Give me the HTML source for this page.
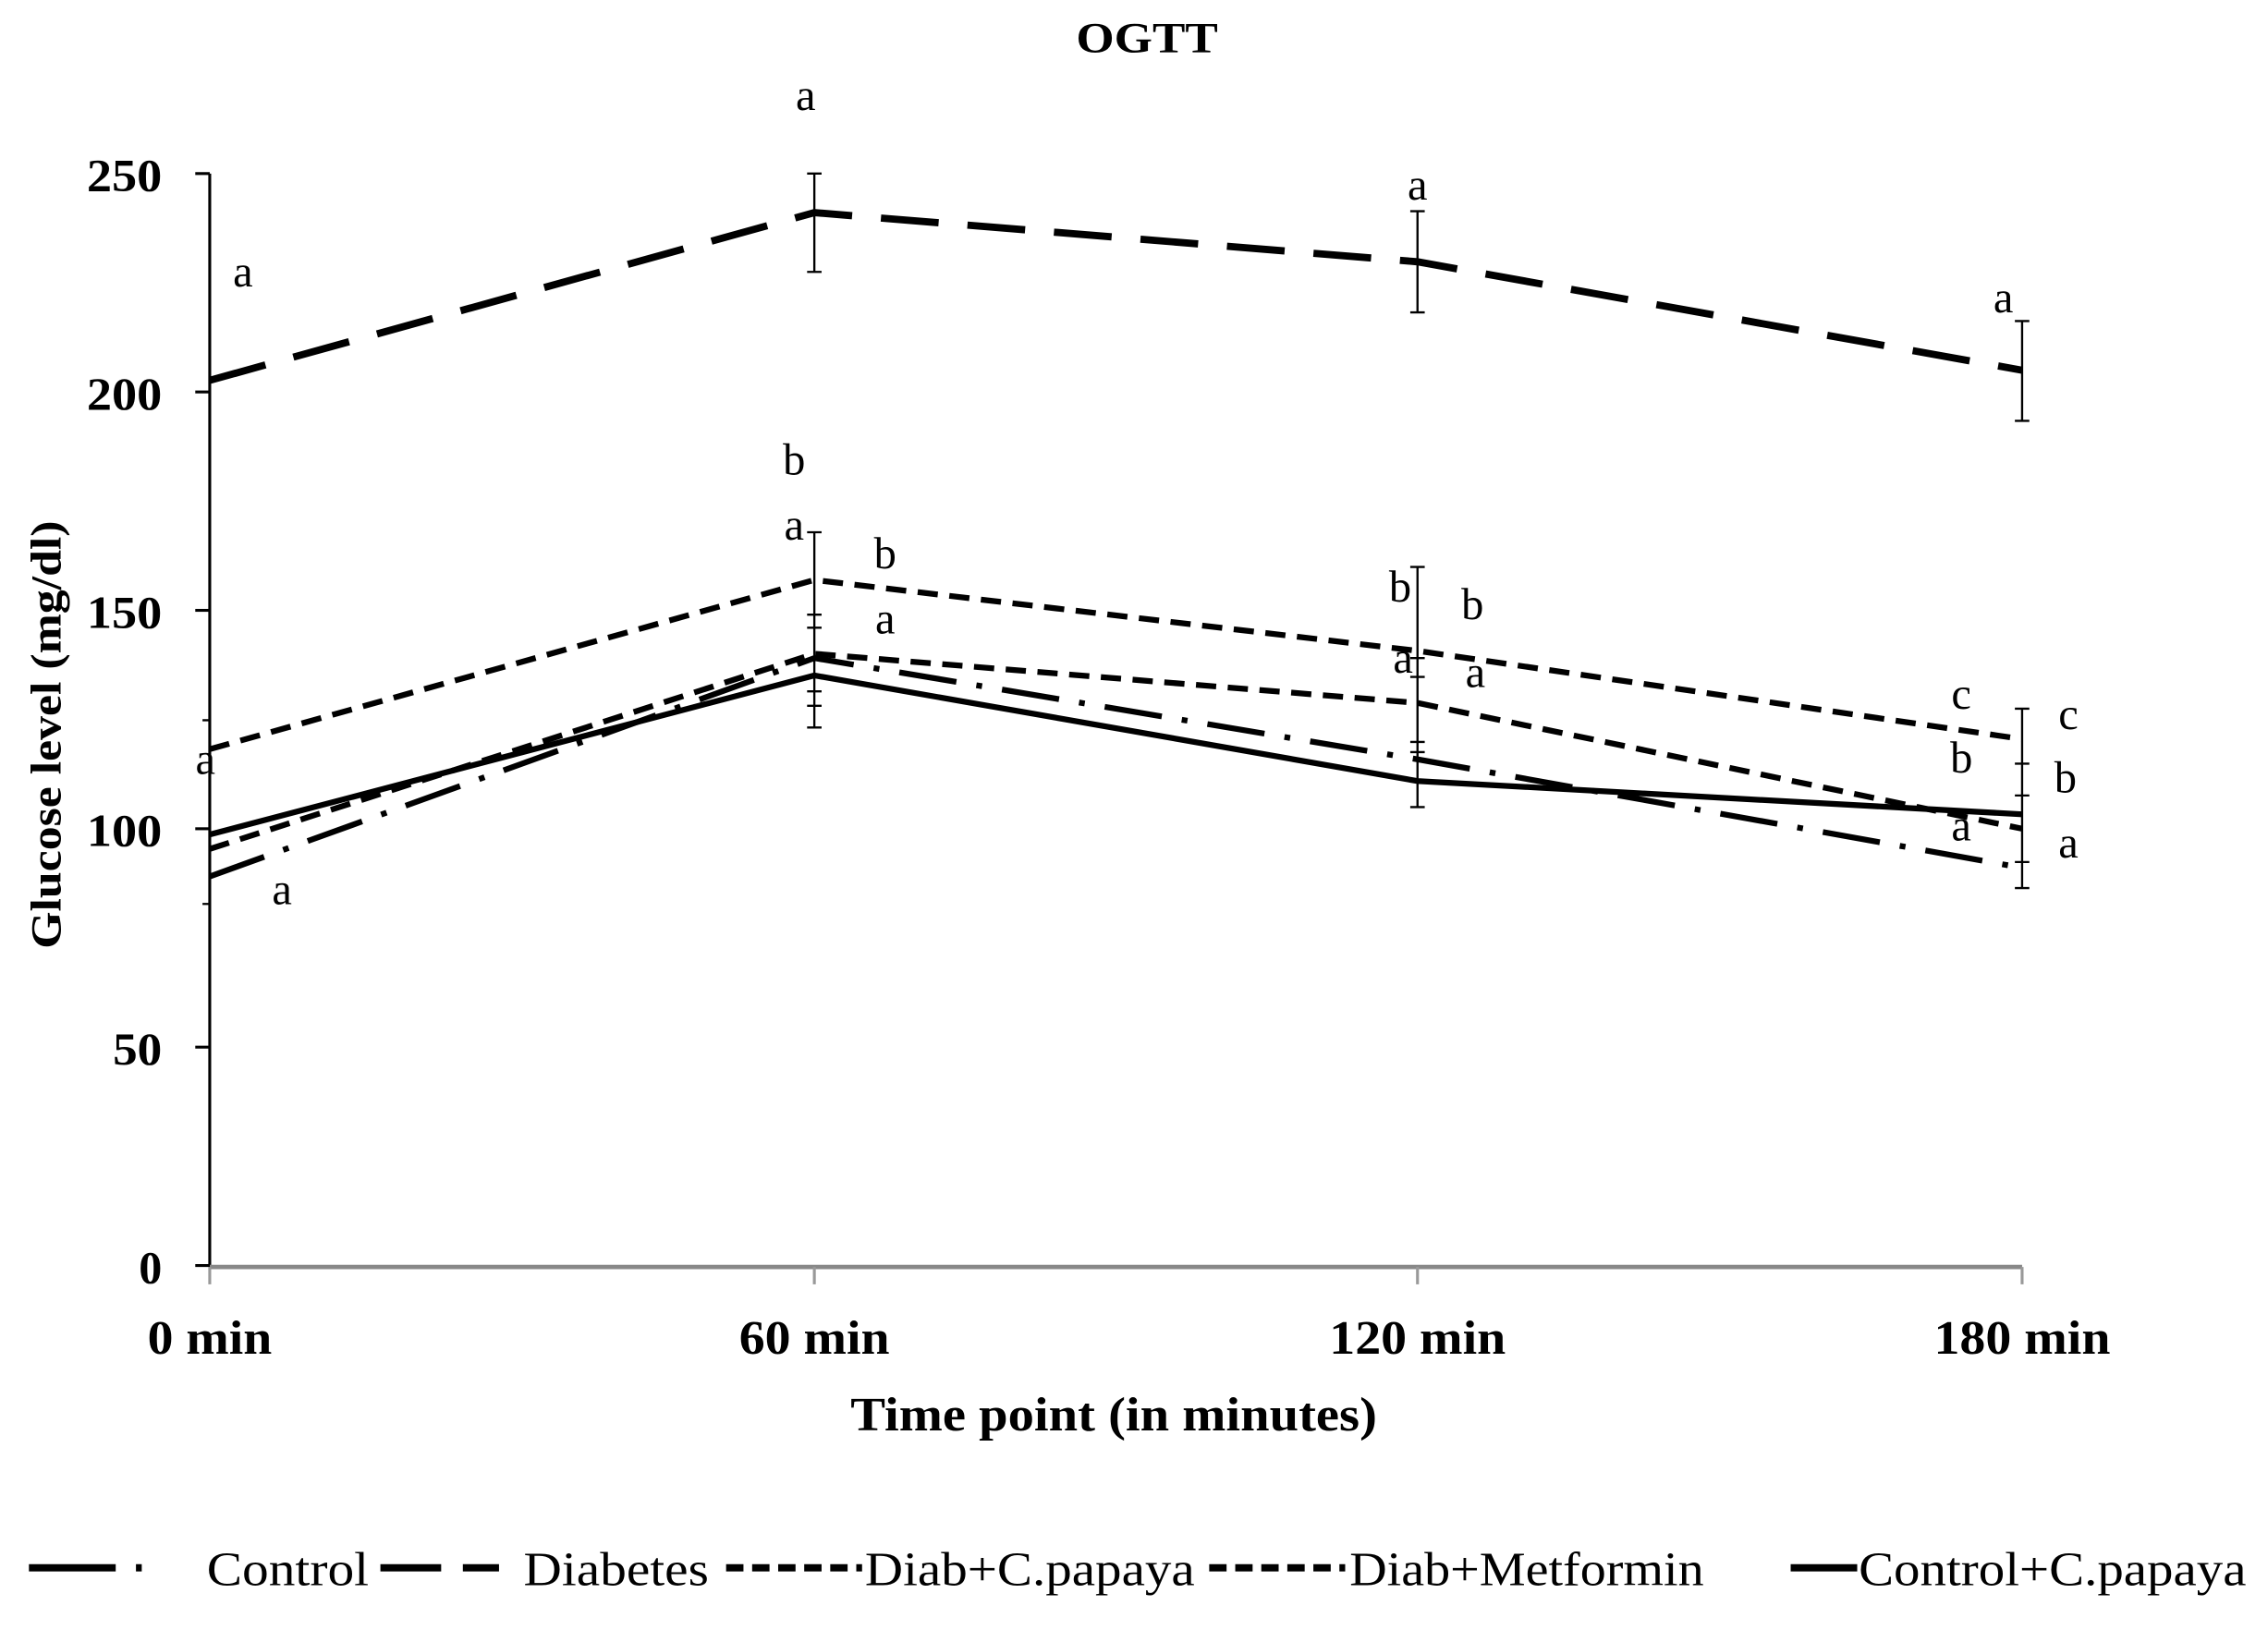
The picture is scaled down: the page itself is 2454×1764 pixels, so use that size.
<!DOCTYPE html>
<html><head><meta charset="utf-8"><style>html,body{margin:0;padding:0;background:#fff}svg{display:block}</style></head><body>
<svg width="2454" height="1764" viewBox="0 0 1568 1127" preserveAspectRatio="none" xmlns="http://www.w3.org/2000/svg" font-family="'Liberation Serif', serif">
<text x="793" y="36" font-size="30" font-weight="bold" text-anchor="middle" textLength="98" lengthAdjust="spacingAndGlyphs">OGTT</text>
<line x1="145" y1="120" x2="145" y2="876" stroke="#000" stroke-width="2"/>
<line x1="145" y1="876" x2="1398" y2="876" stroke="#888" stroke-width="3"/>
<g stroke="#000" stroke-width="2">
<line x1="135" y1="120" x2="145" y2="120"/><line x1="135" y1="271" x2="145" y2="271"/><line x1="135" y1="422" x2="145" y2="422"/><line x1="135" y1="573" x2="145" y2="573"/><line x1="135" y1="724" x2="145" y2="724"/><line x1="135" y1="875" x2="145" y2="875"/>
</g>
<g stroke="#999" stroke-width="2"><line x1="145" y1="876" x2="145" y2="888"/><line x1="563" y1="876" x2="563" y2="888"/><line x1="980" y1="876" x2="980" y2="888"/><line x1="1398" y1="876" x2="1398" y2="888"/></g>
<g font-size="32" font-weight="bold" text-anchor="end">
<text x="112" y="132" textLength="52" lengthAdjust="spacingAndGlyphs">250</text><text x="112" y="283" textLength="52" lengthAdjust="spacingAndGlyphs">200</text><text x="112" y="434" textLength="52" lengthAdjust="spacingAndGlyphs">150</text><text x="112" y="585" textLength="52" lengthAdjust="spacingAndGlyphs">100</text><text x="112" y="736" textLength="34" lengthAdjust="spacingAndGlyphs">50</text><text x="112" y="887">0</text>
</g>
<g font-size="33" font-weight="bold" text-anchor="middle">
<text x="145" y="936" textLength="86" lengthAdjust="spacingAndGlyphs">0 min</text><text x="563" y="936" textLength="104" lengthAdjust="spacingAndGlyphs">60 min</text><text x="980" y="936" textLength="122" lengthAdjust="spacingAndGlyphs">120 min</text><text x="1398" y="936" textLength="122" lengthAdjust="spacingAndGlyphs">180 min</text>
<text x="770" y="989" textLength="364" lengthAdjust="spacingAndGlyphs">Time point (in minutes)</text>
</g>
<text transform="translate(42,508) rotate(-90)" font-size="30" font-weight="bold" text-anchor="middle" textLength="296" lengthAdjust="spacingAndGlyphs">Glucose level (mg/dl)</text>
<g stroke="#000" stroke-width="1.5" fill="none">
<path d="M563 120V188M558 120h10M558 188h10"/>
<path d="M980 146V216M975 146h10M975 216h10"/>
<path d="M1398 222V291M1393 222h10M1393 291h10"/>
<path d="M563 368V503M558 368h10M558 503h10M558 425h10M558 434h10M558 488h10M558 478h10"/>
<path d="M980 392V558M975 392h10M975 558h10M975 455h10M975 468h10M975 513h10M975 520h10"/>
<path d="M1398 490V614M1393 490h10M1393 528h10M1393 550h10M1393 596h10M1393 614h10"/>
<path d="M145 258V302M145 498V625M140 498h5M140 625h5"/>
</g>
<g fill="none" stroke="#000" stroke-width="4">
<polyline points="145,263 563,147 980,181 1398,256" stroke-dasharray="40,20" stroke-width="5"/>
<polyline points="145,518 563,401 980,450 1398,511" stroke-dasharray="14,8"/>
<polyline points="145,587 563,452 980,486 1398,573" stroke-dasharray="14,8"/>
<polyline points="145,606 563,455 980,525 1398,600" stroke-dasharray="40,14,4,14"/>
<polyline points="145,577 563,467 980,540 1398,563"/>
</g>
<g font-size="31" text-anchor="middle">
<text x="168" y="198">a</text><text x="557" y="76">a</text><text x="980" y="138">a</text><text x="1385" y="216">a</text>
<text x="549" y="328">b</text><text x="549" y="373">a</text><text x="612" y="393">b</text><text x="612" y="438">a</text>
<text x="968" y="416">b</text><text x="1018" y="428">b</text><text x="970" y="465">a</text><text x="1020" y="475">a</text>
<text x="1356" y="490">c</text><text x="1430" y="504">c</text><text x="1356" y="534">b</text><text x="1428" y="548">b</text><text x="1356" y="581">a</text><text x="1430" y="593">a</text>
<text x="142" y="535">a</text><text x="195" y="625">a</text>
</g>
<g stroke="#000" stroke-width="5" fill="none">
<path d="M20 1084H80M94 1084h4"/>
<path d="M263 1084H305M320 1084h25"/>
<path d="M502 1084H596" stroke-dasharray="12,6"/>
<path d="M836 1084H930" stroke-dasharray="12,6"/>
<path d="M1238 1084H1284"/>
</g>
<g font-size="33">
<text x="143" y="1096" textLength="112" lengthAdjust="spacingAndGlyphs">Control</text>
<text x="362" y="1096" textLength="128" lengthAdjust="spacingAndGlyphs">Diabetes</text>
<text x="598" y="1096" textLength="228" lengthAdjust="spacingAndGlyphs">Diab+C.papaya</text>
<text x="933" y="1096" textLength="245" lengthAdjust="spacingAndGlyphs">Diab+Metformin</text>
<text x="1285" y="1096" textLength="268" lengthAdjust="spacingAndGlyphs">Control+C.papaya</text>
</g>
</svg>
</body></html>
